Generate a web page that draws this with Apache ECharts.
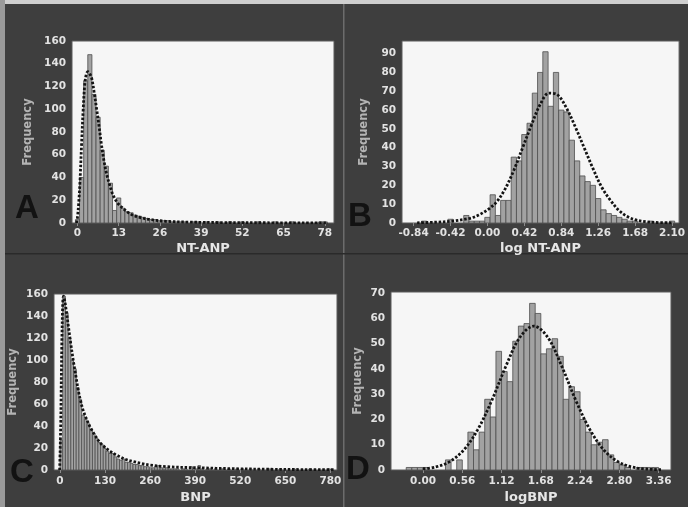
<!DOCTYPE html>
<html>
<head>
<meta charset="utf-8">
<script src="https://cdn.jsdelivr.net/npm/echarts@6/dist/echarts.min.js"></script>
<style>
html,body{margin:0;padding:0;background:#3e3e3e;}
#chart{width:688px;height:507px;}
</style>
</head>
<body>
<div id="chart"></div>
<script>
// ---- Panel A: NT-ANP ----
const aBinStart = -0.65, aBinWidth = 1.3;
const aCounts = [3,40,125,148,113,93,64,50,35,11,22,13,10,9,7,6,5,4,3,3,2,2,2,1,1,1,1,0,1,1,0,1,0,0,1,0,0,1,0,0,1,0,0,0,1,0,0,0,1,0,0,0,1,0,0,0,0,0,0,1,1];
const aCurveX = [-0.3,0.0,0.4,0.8,1.3,1.8,2.3,2.8,3.3,3.9,4.5,5.3,6.1,6.9,7.6,8.4,9.2,10.2,11.3,12.8,14.5,16,17.6,20,23,28,35,45,60,79];
const aCurveY = [0,5,18,37,70,100,122,131,133,131,127,114,99,83,68,54,43,33,24,17,12.6,9.2,6.7,4.6,3,1.5,0.8,0.4,0.2,0.1];
const aXTicks = [0,13,26,39,52,65,78];
const aYTicks = [0,20,40,60,80,100,120,140,160];

// ---- Panel B: log NT-ANP ----
const bBinStart = -0.75, bBinWidth = 0.06;
const bCounts = [1,0,0,0,0,2,0,0,4,1,1,1,3,15,4,12,12,35,33,47,53,69,80,91,62,80,60,59,44,33,25,22,20,13,7,5,4,3,2,1,1,0,0,1,0,0,0,1];
const bCurveX = [-0.8,-0.6,-0.4,-0.2,-0.1,0.0,0.1,0.2,0.3,0.4,0.5,0.6,0.7,0.8,0.9,1.0,1.1,1.2,1.3,1.4,1.5,1.6,1.7,1.8,1.9,2.1];
const bCurveY = [0.1,0.4,1.0,2.5,4.2,7,11,18,28,40,52,63,69,68,61,51,40,29,19,12,6.5,3.2,1.5,0.7,0.3,0.1];
const bXTicks = [-0.84,-0.42,0,0.42,0.84,1.26,1.68,2.10];
const bYTicks = [0,10,20,30,40,50,60,70,80,90];

// ---- Panel C: BNP ----
const cBinStart = 0, cBinWidth = 7.8;
const cCounts = [27,158,143,120,100,92,75,64,50,46,42,37,33,29,25,23,20,17,15,15,12,10,9,10,7,7,6,5,5,4,4,3,3,2,2,3,4,2,1,2,1,1,1,1,0,1,1,0,3,1,1,4,1,0,1,1,0,1,0,1,1,0,1,0,0,1,0,1,0,0,1,0,0,1,0,0,0,1,0,0,0,1,0,0,0,0,1,0,0,0,0,0,1,0,0,0,0,0,0,1];
const cCurveX = [-1,2,5,8,10,13,18,24,31,38.5,46,53,60,67,77,87,100,115,130,145,160,173,190,212,235,260,308,400,500,600,700,790];
const cCurveY = [0,40,110,152,158,155,145,131,115,99,85,72,62,54,46,39,32,25,20.5,17,14,12,9.5,7.6,6,4.5,3,2,1.2,0.7,0.4,0.3];
const cXTicks = [0,130,260,390,520,650,780];
const cYTicks = [0,20,40,60,80,100,120,140,160];

// ---- Panel D: logBNP ----
const dBinStart = -0.24, dBinWidth = 0.08;
const dCounts = [1,1,1,1,0,0,0,4,0,4,0,15,8,15,28,21,47,39,35,51,57,58,66,62,46,48,52,45,28,33,31,20,15,10,11,12,6,3,2,1,0,1,1,1,1];
const dCurveX = [0.0,0.18,0.38,0.58,0.78,0.98,1.18,1.38,1.58,1.78,1.98,2.18,2.38,2.58,2.78,2.98,3.18,3.4];
const dCurveY = [0.5,1.2,3.3,7.9,16,27.5,41,52.5,57,52.5,41,27.5,16,7.9,3.3,1.2,0.4,0.1];
const dXTicks = [0,0.56,1.12,1.68,2.24,2.80,3.36];
const dYTicks = [0,10,20,30,40,50,60,70];

const panels = [
  {grid:{left:72,top:41,width:262,height:182}, xMin:-1.73, xMax:80.9, yMax:160, start:aBinStart, w:aBinWidth, counts:aCounts, cx:aCurveX, cy:aCurveY, xt:aXTicks, yt:aYTicks, xName:'NT-ANP', dec:0, yGap:38, xGap:19, lblMargin:5, letter:'A', lx:27, ly:209},
  {grid:{left:402,top:41,width:279,height:182}, xMin:-0.972, xMax:2.18, yMax:96.7, start:bBinStart, w:bBinWidth, counts:bCounts, cx:bCurveX, cy:bCurveY, xt:bXTicks, yt:bYTicks, xName:'log NT-ANP', dec:2, yGap:32, xGap:19, lblMargin:5, letter:'B', lx:360, ly:217},
  {grid:{left:54,top:294,width:283,height:176}, xMin:-17.3, xMax:799, yMax:160, start:cBinStart, w:cBinWidth, counts:cCounts, cx:cCurveX, cy:cCurveY, xt:cXTicks, yt:cYTicks, xName:'BNP', dec:0, yGap:35, xGap:21, lblMargin:6, letter:'C', lx:22, ly:473},
  {grid:{left:391,top:292,width:280,height:178}, xMin:-0.457, xMax:3.537, yMax:70.5, start:dBinStart, w:dBinWidth, counts:dCounts, cx:dCurveX, cy:dCurveY, xt:dXTicks, yt:dYTicks, xName:'logBNP', dec:2, yGap:27, xGap:21, lblMargin:6, letter:'D', lx:358, ly:470}
];

const FONT = 'DejaVu Sans';
const grids = [], xAxes = [], yAxes = [], series = [], graphics = [];

graphics.push({type:'rect', shape:{x:0,y:0,width:688,height:4}, style:{fill:'#cfcfcf'}, silent:true, z:-10});
graphics.push({type:'rect', shape:{x:0,y:0,width:5,height:507}, style:{fill:'#9a9a9a'}, silent:true, z:-10});
graphics.push({type:'rect', shape:{x:343,y:4,width:1.5,height:503}, style:{fill:'#6c6c6c'}, silent:true, z:-10});
graphics.push({type:'rect', shape:{x:5,y:253,width:683,height:1.5}, style:{fill:'#2a2a2a'}, silent:true, z:-10});

panels.forEach((p, i) => {
  grids.push(Object.assign({show:true, backgroundColor:'#f6f6f6', borderColor:'#5a5a5a', borderWidth:1}, p.grid));
  xAxes.push({
    type:'value', gridIndex:i, min:p.xMin, max:p.xMax,
    name:p.xName, nameLocation:'middle', nameGap:p.xGap,
    nameTextStyle:{color:'#e6e6e6', fontSize:13, fontWeight:'bold', fontFamily:FONT},
    axisLine:{show:false}, splitLine:{show:false},
    axisTick:{show:true, length:3, inside:false, customValues:p.xt, lineStyle:{color:'#8a8a8a'}},
    axisLabel:{customValues:p.xt, margin:p.lblMargin, color:'#e2e2e2', fontSize:10.5, fontWeight:'bold', fontFamily:FONT,
      formatter: v => v.toFixed(p.dec)}
  });
  yAxes.push({
    type:'value', gridIndex:i, min:0, max:p.yMax,
    name:'Frequency', nameLocation:'middle', nameRotate:90, nameGap:p.yGap,
    nameTextStyle:{color:'#b4b4b4', fontSize:11.5, fontWeight:'bold', fontFamily:FONT},
    axisLine:{show:false}, splitLine:{show:false}, axisTick:{show:false},
    axisLabel:{customValues:p.yt, margin:6, color:'#e2e2e2', fontSize:10.5, fontWeight:'bold', fontFamily:FONT}
  });
  const bins = [];
  p.counts.forEach((c, k) => { if (c > 0) bins.push([p.start + k*p.w, p.start + (k+1)*p.w, c]); });
  series.push({
    type:'custom', xAxisIndex:i, yAxisIndex:i, data:bins, encode:{x:[0,1], y:2}, clip:true,
    renderItem:(params, api) => {
      const a = api.coord([api.value(0), api.value(2)]);
      const b = api.coord([api.value(1), 0]);
      return {type:'rect', shape:{x:a[0], y:a[1], width:b[0]-a[0], height:b[1]-a[1]},
        style:{fill:'#a2a2a2', stroke:'#4e4e4e', lineWidth:0.8}};
    }
  });
  series.push({
    type:'line', xAxisIndex:i, yAxisIndex:i, data:p.cx.map((x, k) => [x, p.cy[k]]),
    smooth:0.35, symbol:'none', clip:true, z:5,
    lineStyle:{color:'#141414', width:2.8, type:[2.5,1.8]}
  });
  graphics.push({type:'text', x:p.lx, y:p.ly, z:20,
    style:{text:p.letter, fill:'#121212', font:'bold 33px "Liberation Sans"', align:'center', verticalAlign:'middle'}});
});

const chart = echarts.init(document.getElementById('chart'), null, {renderer:'canvas'});
chart.setOption({
  backgroundColor:'#3e3e3e',
  animation:false,
  grid:grids, xAxis:xAxes, yAxis:yAxes, series:series, graphic:graphics
});
</script>
</body>
</html>
